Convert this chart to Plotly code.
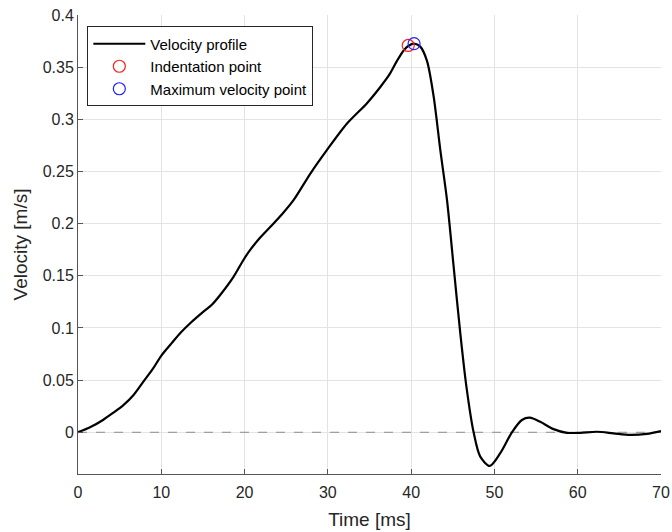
import plotly.graph_objects as go

time_ms = [0, 1.5, 3.0, 4.2, 5.45, 6.7, 7.85, 9.0, 10.05, 11.2, 12.26, 13.6, 15.06, 16.1, 17.07, 18.67,
           19.7, 20.5, 21.8, 23.1, 24.5, 25.9, 27.9, 29.9, 32.3, 34.7, 36.3, 37.4, 38.3, 39.1, 39.7,
           40.35, 41.1, 41.9, 42.7, 43.5, 44.3, 45.1, 45.9, 46.6, 47.5, 48.3, 49.45, 50.7, 52.1,
           53.3, 54.25, 55.5, 57.1, 58.7, 60.3, 62.3, 64.3, 66.3, 68.3, 70.0]
velocity = [0, 0.005, 0.0118, 0.0185, 0.026, 0.036, 0.0485, 0.061, 0.074, 0.085, 0.095, 0.1055, 0.1156,
            0.1225, 0.1316, 0.149, 0.163, 0.173, 0.186, 0.197, 0.209, 0.2227, 0.248, 0.2707, 0.296,
            0.3155, 0.331, 0.343, 0.356, 0.366, 0.3705, 0.3725, 0.3697, 0.356, 0.322, 0.2707, 0.223,
            0.159, 0.095, 0.046, 0.0, -0.0234, -0.0323, -0.020, 0.0, 0.0118, 0.014, 0.010, 0.003,
            -0.0005, -0.0005, 0.0005, -0.001, -0.0025, -0.0015, 0.0012]

indent_t = [39.65]
indent_v = [0.3708]
vmax_t = [40.35]
vmax_v = [0.3725]

x_ticks = [0, 10, 20, 30, 40, 50, 60, 70]
y_ticks = [0, 0.05, 0.1, 0.15, 0.2, 0.25, 0.3, 0.35, 0.4]
y_tick_text = ["0", "0.05", "0.1", "0.15", "0.2", "0.25", "0.3", "0.35", "0.4"]

fig = go.Figure()
fig.add_trace(go.Scatter(x=[0, 70], y=[0, 0], mode="lines", showlegend=False, hoverinfo="skip",
                         line=dict(color="#8c8c8c", width=1, dash="dash")))
fig.add_trace(go.Scatter(x=time_ms, y=velocity, mode="lines", name="Velocity profile",
                         line=dict(color="black", width=2.2, shape="spline", smoothing=0.8)))
fig.add_trace(go.Scatter(x=indent_t, y=indent_v, mode="markers", name="Indentation point",
                         marker=dict(symbol="circle-open", size=12, color="#ff2020", line=dict(width=1.2))))
fig.add_trace(go.Scatter(x=vmax_t, y=vmax_v, mode="markers", name="Maximum velocity point",
                         marker=dict(symbol="circle-open", size=12, color="#2020ff", line=dict(width=1.2))))

axis_font = dict(family="Liberation Sans, Arial, sans-serif", size=16, color="#262626")
fig.update_layout(
    width=672, height=532,
    margin=dict(l=78, r=11, t=15, b=58, autoexpand=False),
    paper_bgcolor="white", plot_bgcolor="white",
    font=axis_font,
    showlegend=True,
    legend=dict(x=0.016, y=0.975, xanchor="left", yanchor="top",
                bordercolor="#262626", borderwidth=1, bgcolor="white",
                font=dict(family="Liberation Sans, Arial, sans-serif", size=15, color="black"),
                tracegroupgap=0, itemwidth=52),
    xaxis=dict(range=[0, 70], tickvals=x_ticks, ticks="inside", ticklen=5, tickcolor="#555",
               showline=True, linecolor="#555", linewidth=1, showgrid=True, gridcolor="#e3e3e3",
               zeroline=False, automargin=False, ticklabelstandoff=4,
               title=dict(text="Time [ms]", standoff=12), tickfont=axis_font),
    yaxis=dict(range=[-0.04, 0.4], tickvals=y_ticks, ticktext=y_tick_text, ticks="inside", ticklen=5,
               tickcolor="#555", showline=True, linecolor="#555", linewidth=1, showgrid=True,
               gridcolor="#e3e3e3", zeroline=False, automargin=False,
               title=dict(text="Velocity [m/s]", standoff=10), tickfont=axis_font),
)
fig.write_html("out.html")
